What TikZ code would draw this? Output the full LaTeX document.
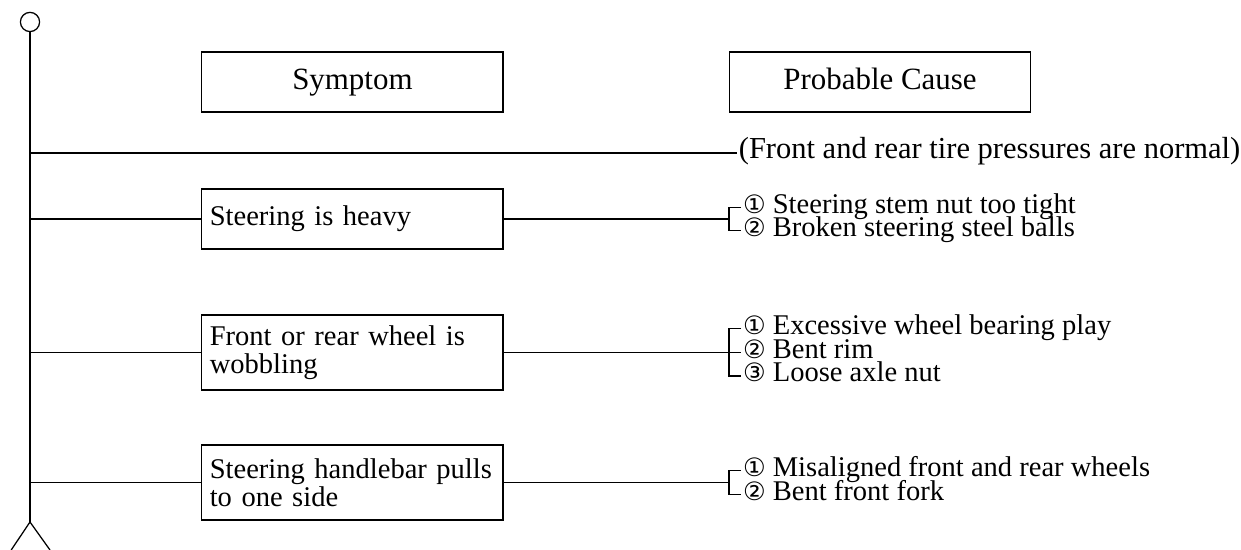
\documentclass[tikz,border=0pt]{standalone}
\usepackage{fontspec}
\setmainfont{Liberation Serif}
\newfontfamily\circfont{DejaVu Sans}
\newcommand{\cnum}[1]{{\circfont\fontsize{18}{18}\selectfont #1}}
\begin{document}
\begin{tikzpicture}[line width=0.9pt, every node/.style={font=\fontsize{20.3}{20}\selectfont},
  hdr/.style={draw,minimum width=7.53cm,minimum height=1.5cm,inner sep=0pt,text height=14pt,text depth=4pt,font=\fontsize{22}{25}\selectfont},
  sym/.style={draw,text width=7.13cm,inner xsep=0.2cm,minimum height=1.5cm,align=left},
  cause/.style={anchor=west,inner sep=1pt,text height=11pt,text depth=2.5pt}]
\useasboundingbox (0,0) rectangle (31.025,13.75);
% spine
\node[circle,draw,minimum size=0.48cm,inner sep=0pt] (head) at (0.75,13.2) {};
\coordinate (foot) at (0.75,0.7);
\coordinate (lleg) at (0.28,0);
\coordinate (rleg) at (1.25,0);
\draw (head) -- (foot);
\draw (lleg) -- (foot) -- (rleg);
% headings
\node[hdr] (symhdr) at (8.81,11.7) {Symptom};
\node[hdr] (causehdr) at (22.0,11.7) {Probable Cause};
\node[cause,font=\fontsize{21.7}{25}\selectfont] (note) at (18.42,9.925) {(Front and rear tire pressures are normal)};
\draw (note.west -| foot) -- (note.west);
% symptoms
\node[sym] (s1) at (8.81,8.275) {Steering is heavy};
\node[sym,minimum height=1.875cm] (s2) at (8.81,4.94) {Front or rear wheel is\\wobbling};
\node[sym,minimum height=1.875cm] (s3) at (8.81,1.69) {Steering handlebar pulls\\to one side};
\foreach \s in {s1,s2,s3} \draw (\s.west -| foot) -- (\s.west);
% causes
\node[cause] (c11) at (18.525,8.57) {\cnum{①} Steering stem nut too tight};
\node[cause] (c12) at (18.525,7.98) {\cnum{②} Broken steering steel balls};
\node[cause] (c21) at (18.525,5.53) {\cnum{①} Excessive wheel bearing play};
\node[cause] (c22) at (18.525,4.94) {\cnum{②} Bent rim};
\node[cause] (c23) at (18.525,4.35) {\cnum{③} Loose axle nut};
\node[cause] (c31) at (18.525,1.985) {\cnum{①} Misaligned front and rear wheels};
\node[cause] (c32) at (18.525,1.395) {\cnum{②} Bent front fork};
\coordinate (b1) at (18.225,8.275);
\coordinate (b2) at (18.225,4.94);
\coordinate (b3) at (18.225,1.69);
\draw (s1) -- (b1);
\draw (s2) -- (b2);
\draw (s3) -- (b3);
\draw (c11.west) -| (b1) |- (c12.west);
\draw (c21.west) -| (b2) |- (c23.west);
\draw (b2) -- (c22.west);
\draw (c31.west) -| (b3) |- (c32.west);
\end{tikzpicture}
\end{document}
